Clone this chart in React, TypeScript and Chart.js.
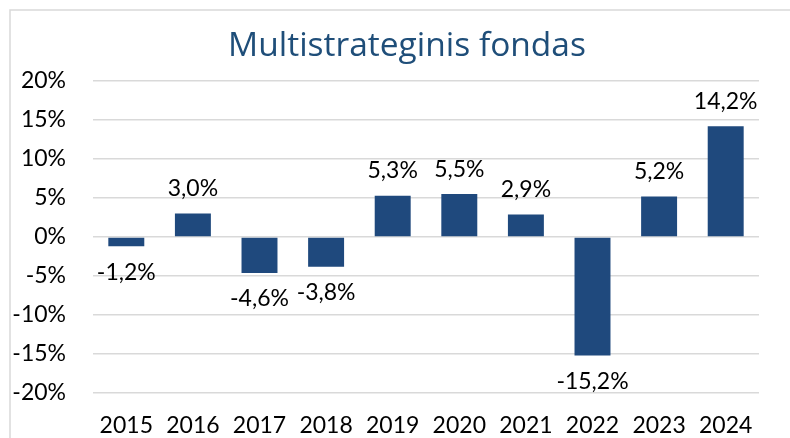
import React, { useEffect, useRef } from "react";
import { Chart, registerables } from "chart.js";

Chart.register(...registerables);

const TITLE = "Multistrateginis fondas";
const years = ["2015", "2016", "2017", "2018", "2019", "2020", "2021", "2022", "2023", "2024"];
const returns = [-1.2, 3.0, -4.6, -3.8, 5.3, 5.5, 2.9, -15.2, 5.2, 14.2];
const Y_MIN = -20;
const Y_MAX = 20;
const Y_STEP = 5;

const FONT = "Lato, 'Liberation Sans', sans-serif";
const TITLE_FONT = "'Open Sans', 'Liberation Sans', sans-serif";
const BAR_COLOR = "#1F497D";
const TITLE_COLOR = "#1F4E79";

const fmt = (v: number) => v.toFixed(1).replace(".", ",") + "%";

const decorPlugin = {
  id: "decor",
  beforeDraw(chart: any) {
    const ctx = chart.ctx;
    ctx.save();
    ctx.fillStyle = "#ffffff";
    ctx.fillRect(0, 0, chart.width, chart.height);
    ctx.strokeStyle = "#d9d9d9";
    ctx.lineWidth = 1.5;
    ctx.beginPath();
    ctx.moveTo(10, chart.height);
    ctx.lineTo(10, 10);
    ctx.lineTo(chart.width, 10);
    ctx.stroke();
    ctx.fillStyle = TITLE_COLOR;
    ctx.font = `33.5px ${TITLE_FONT}`;
    ctx.textAlign = "center";
    ctx.textBaseline = "middle";
    ctx.fillText(TITLE, 407, 46);
    ctx.restore();
  },
  afterDatasetsDraw(chart: any) {
    const ctx = chart.ctx;
    const meta = chart.getDatasetMeta(0);
    const data = chart.data.datasets[0].data as number[];
    ctx.save();
    ctx.fillStyle = "#000000";
    ctx.font = `23px ${FONT}`;
    ctx.textAlign = "center";
    ctx.textBaseline = "middle";
    meta.data.forEach((el: any, i: number) => {
      const v = data[i];
      const y = v >= 0 ? el.y - 25 : el.y + 26;
      ctx.fillText(fmt(v), el.x, y);
    });
    ctx.restore();
  },
};

export default function App() {
  const ref = useRef<HTMLCanvasElement | null>(null);
  useEffect(() => {
    if (!ref.current) return;
    const chart = new Chart(ref.current, {
      type: "bar",
      data: {
        labels: years,
        datasets: [
          {
            data: returns,
            backgroundColor: BAR_COLOR,
            barPercentage: 0.54,
            categoryPercentage: 1,
          },
        ],
      },
      options: {
        animation: false,
        responsive: false,
        maintainAspectRatio: false,
        layout: { padding: { left: 10, right: 31, top: 81, bottom: 0 } },
        plugins: {
          legend: { display: false },
          title: { display: false },
          tooltip: { enabled: false },
        },
        scales: {
          x: {
            grid: { display: false, drawTicks: false },
            border: { display: false },
            ticks: {
              color: "#000000",
              font: { family: FONT, size: 23 },
              padding: 19,
              maxRotation: 0,
            },
            afterFit: (s: any) => {
              s.height = 45;
            },
          },
          y: {
            min: Y_MIN,
            max: Y_MAX,
            grid: { color: "#d9d9d9", lineWidth: 1.5, drawTicks: false },
            border: { display: false },
            ticks: {
              stepSize: Y_STEP,
              color: "#000000",
              font: { family: FONT, size: 23 },
              padding: 27,
              callback: (v: any) => `${v}%`,
            },
            afterFit: (s: any) => {
              s.width = 83;
            },
          },
        },
      },
      plugins: [decorPlugin],
    });
    return () => chart.destroy();
  }, []);
  return (
    <div style={{ position: "fixed", left: 0, top: 0, width: 790, height: 438 }}>
      <canvas ref={ref} width={790} height={438} style={{ display: "block" }} />
    </div>
  );
}
